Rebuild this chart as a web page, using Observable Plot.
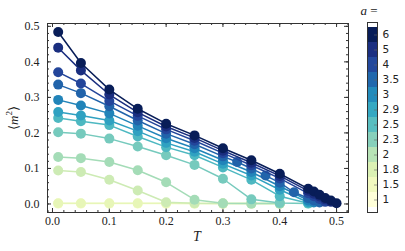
<!DOCTYPE html>
<html><head><meta charset="utf-8">
<script src="https://cdn.jsdelivr.net/npm/d3@7"></script>
<script src="https://cdn.jsdelivr.net/npm/@observablehq/plot@0.6"></script>
<style>
body{margin:0;background:#fff;overflow:hidden;}
#wrap{position:relative;width:405px;height:251px;overflow:hidden;}
#main{position:absolute;left:0;top:0;}
#cbar{position:absolute;left:367px;top:0;}
.lab{position:absolute;font-family:"Liberation Serif",serif;color:#222;white-space:nowrap;}
#ylab{left:13px;top:118px;font-size:13px;transform:translate(-50%,-50%) rotate(-90deg);}
#xlab{left:197px;top:237px;font-size:14px;transform:translate(-50%,-50%);}
#atitle{left:369px;top:11px;font-size:13px;transform:translate(-50%,-50%);}
</style></head><body>
<div id="wrap">
<div id="main"></div><div id="cbar"></div>
<div class="lab" id="ylab">⟨<i>m</i><sup style="font-size:9px">2</sup>⟩</div>
<div class="lab" id="xlab"><i>T</i></div>
<div class="lab" id="atitle"><i>a</i> =</div>
</div>
<script>
// ---- data ----
const aLabels = ["1","1.5","1.8","2","2.3","2.5","2.9","3","3.5","4","5","6"];

const T_low  = [0.01,0.05,0.1,0.15,0.2,0.25,0.3,0.35,0.4];
const T_mid  = [0.01,0.05,0.1,0.15,0.2,0.25,0.3,0.35,0.4,0.45];
const T_a3   = [0.01,0.05,0.1,0.15,0.2,0.25,0.3,0.35,0.4,0.45,0.46];
const T_a35  = [0.01,0.05,0.1,0.15,0.2,0.25,0.3,0.325,0.35,0.375,0.4,0.425,0.45,0.46,0.47];
const T_a4   = [0.01,0.05,0.1,0.15,0.2,0.25,0.3,0.35,0.4,0.45,0.46,0.47,0.48];
const T_a5   = [0.01,0.05,0.1,0.15,0.2,0.25,0.3,0.35,0.4,0.45,0.46,0.47,0.48,0.49];
const T_a6   = [0.01,0.05,0.1,0.15,0.2,0.25,0.3,0.35,0.4,0.45,0.46,0.47,0.48,0.49,0.5];

const m2_a1  = [0.001,0.001,0.001,0.001,0.001,0.001,0.001,0.001,0.001];
const m2_a15 = [0.002,0.002,0.002,0.002,0.002,0.001,0.001,0.001,0.001];
const m2_a18 = [0.094,0.090,0.068,0.038,0.005,0.002,0.001,0.001,0.001];
const m2_a2  = [0.132,0.129,0.118,0.095,0.061,0.012,0.002,0.001,0.001];
const m2_a23 = [0.202,0.198,0.184,0.162,0.137,0.110,0.071,0.013,0.003,0.001];
const m2_a25 = [0.242,0.233,0.222,0.190,0.160,0.137,0.103,0.068,0.022,0.002];
const m2_a29 = [0.259,0.249,0.235,0.205,0.172,0.147,0.113,0.080,0.040,0.005];
const m2_a3  = [0.293,0.277,0.255,0.220,0.185,0.157,0.123,0.090,0.050,0.010,0.004];
const m2_a35 = [0.336,0.312,0.275,0.235,0.198,0.168,0.134,0.118,0.100,0.080,0.060,0.033,0.016,0.010,0.004];
const m2_a4  = [0.371,0.339,0.290,0.248,0.210,0.178,0.143,0.109,0.072,0.030,0.022,0.014,0.006];
const m2_a5  = [0.440,0.376,0.308,0.258,0.218,0.186,0.150,0.116,0.079,0.037,0.029,0.021,0.013,0.006];
const m2_a6  = [0.484,0.397,0.322,0.268,0.226,0.193,0.157,0.123,0.085,0.043,0.035,0.026,0.017,0.010,0.002];

const xTickLabels = [0, 0.1, 0.2, 0.3, 0.4, 0.5];
const yTickLabels = [0, 0.1, 0.2, 0.3, 0.4, 0.5];

const seriesT = [T_low,T_low,T_low,T_low,T_mid,T_mid,T_mid,T_a3,T_a35,T_a4,T_a5,T_a6];
const seriesM = [m2_a1,m2_a15,m2_a18,m2_a2,m2_a23,m2_a25,m2_a29,m2_a3,m2_a35,m2_a4,m2_a5,m2_a6];

const rows = [];
aLabels.forEach((a,i) => seriesT[i].forEach((t,j) => rows.push({a, T:t, m:seriesM[i][j]})));

// ---- layout ----
const W=405, H=251, mL=47, mR=57, mT=23, mB=39;
const iW = W-mL-mR, iH = H-mT-mB;
const lineColor = a => d3.interpolateYlGnBu(0.05 + 0.95*aLabels.indexOf(a)/11);
const barColor = aLabels.map((a,i) => d3.interpolateYlGnBu(i/11));

const xMinor = d3.range(0, 0.53, 0.02).filter(v => v <= 0.52);
const yMinor = d3.range(-0.02, 0.51, 0.02);

const marks = [
  Plot.tickX(xMinor, {x:d=>d, insetTop:iH-2, stroke:"#333"}),
  Plot.tickX(xMinor, {x:d=>d, insetBottom:iH-2, stroke:"#333"}),
  Plot.tickX(xTickLabels, {x:d=>d, insetTop:iH-4, stroke:"#333"}),
  Plot.tickX(xTickLabels, {x:d=>d, insetBottom:iH-4, stroke:"#333"}),
  Plot.tickY(yMinor, {y:d=>d, insetRight:iW-2, stroke:"#333"}),
  Plot.tickY(yMinor, {y:d=>d, insetLeft:iW-2, stroke:"#333"}),
  Plot.tickY(yTickLabels, {y:d=>d, insetRight:iW-4, stroke:"#333"}),
  Plot.tickY(yTickLabels, {y:d=>d, insetLeft:iW-4, stroke:"#333"}),
  Plot.axisX({ticks:xTickLabels, tickSize:0, tickPadding:4, tickFormat:d3.format(".1f"), label:null}),
  Plot.axisY({ticks:yTickLabels, tickSize:0, tickPadding:8, tickFormat:d3.format(".1f"), label:null})
];
aLabels.forEach(a => {
  const d = rows.filter(r => r.a === a);
  marks.push(Plot.line(d, {x:"T", y:"m", stroke:lineColor(a), strokeWidth:1.5}));
  marks.push(Plot.dot(d, {x:"T", y:"m", r:5, fill:lineColor(a), stroke:"none"}));
});
marks.push(Plot.frame({stroke:"#333", strokeWidth:1}));

const chart = Plot.plot({
  width:W, height:H, marginLeft:mL, marginRight:mR, marginTop:mT, marginBottom:mB,
  x:{domain:[-0.0088, 0.521]},
  y:{domain:[-0.024, 0.508]},
  style:{fontFamily:"Liberation Serif, serif", fontSize:"12px", color:"#222", background:"white"},
  marks
});
document.getElementById("main").appendChild(chart);

const cbW = 38, cbR = 28;
const cbar = Plot.plot({
  width:cbW, height:H, marginLeft:0, marginRight:cbR, marginTop:22, marginBottom:39,
  x:{type:"band", domain:["bar"], padding:0, axis:null},
  y:{type:"band", domain:aLabels.slice().reverse(), padding:0},
  color:{type:"ordinal", domain:aLabels, range:barColor},
  style:{fontFamily:"DejaVu Sans, sans-serif", fontSize:"10.5px", color:"#222", background:"transparent", overflow:"visible"},
  marks:[
    Plot.cell(aLabels, {x:()=>"bar", y:d=>d, fill:d=>d}),
    Plot.tickY(aLabels, {y:d=>d, insetLeft:cbW-cbR-3, stroke:"#666", strokeOpacity:0.6}),
    Plot.axisY({anchor:"right", tickSize:0, tickPadding:5, label:null}),
    Plot.frame({stroke:"#333"})
  ]
});
document.getElementById("cbar").appendChild(cbar);
</script>
</body></html>
